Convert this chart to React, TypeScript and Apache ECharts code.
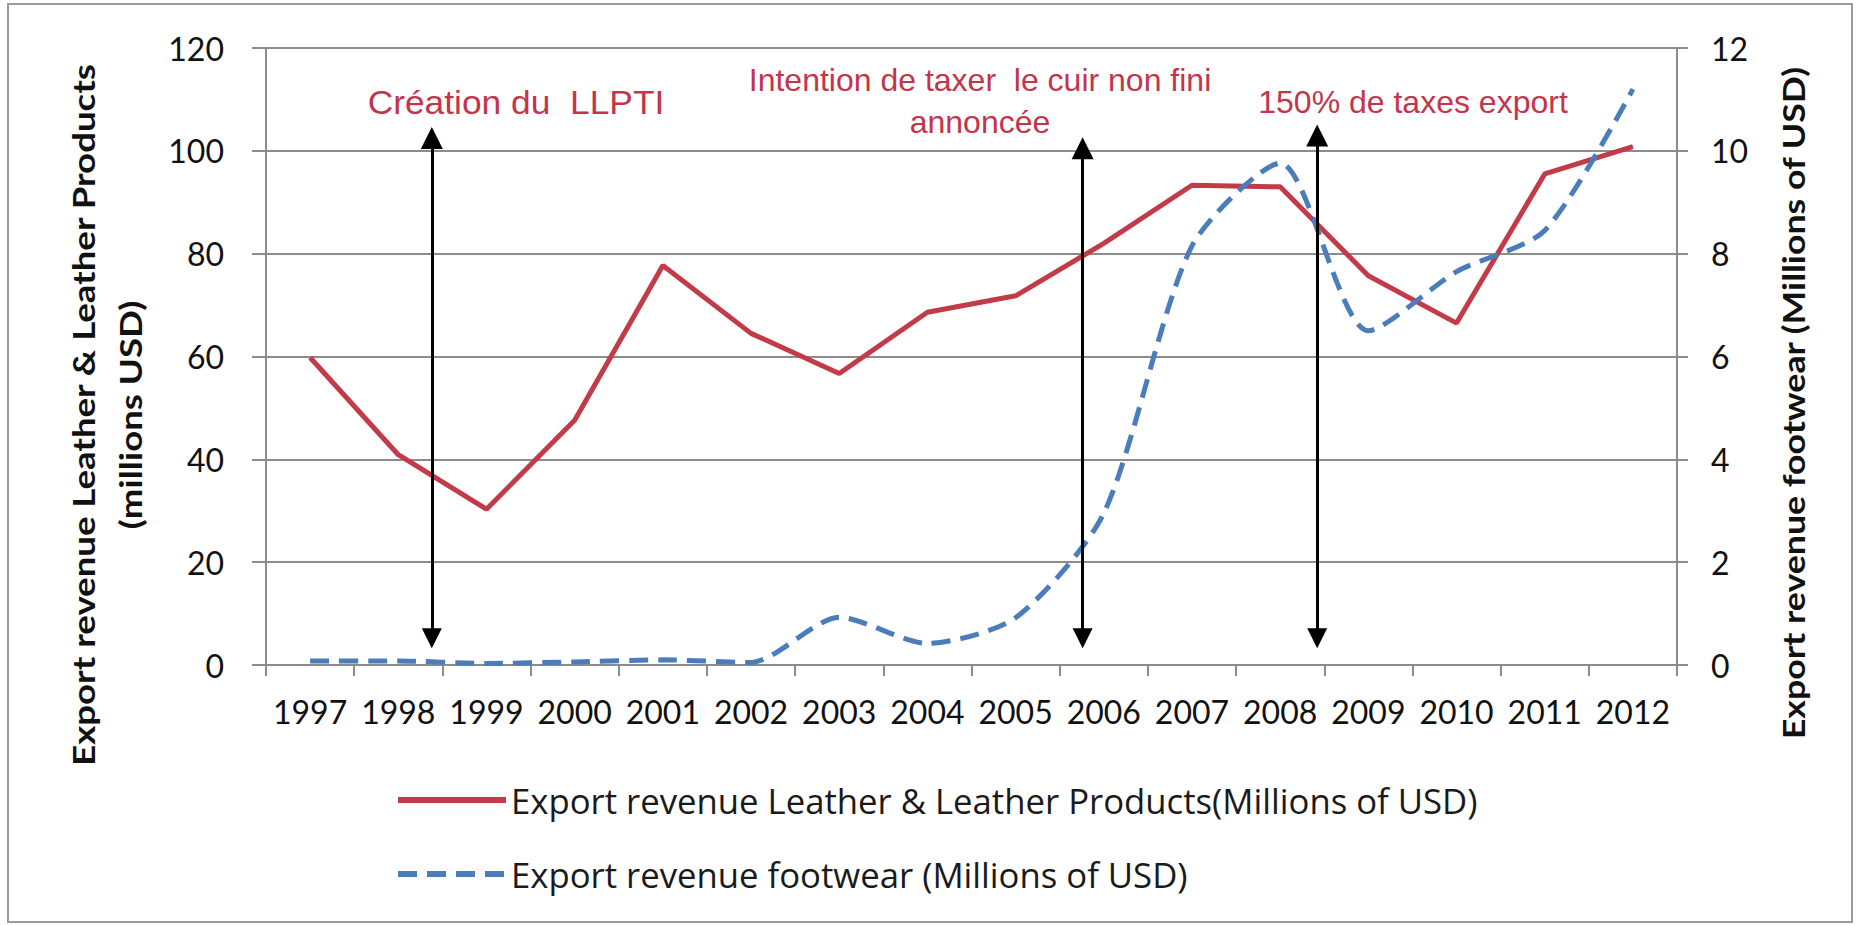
import React, { useEffect, useRef } from "react";
import * as echarts from "echarts";

const years = ["1997", "1998", "1999", "2000", "2001", "2002", "2003", "2004", "2005", "2006", "2007", "2008", "2009", "2010", "2011", "2012"];
const leather = [59.8, 40.9, 30.3, 47.6, 77.7, 64.5, 56.7, 68.6, 71.8, 82.0, 93.3, 93.0, 75.7, 66.5, 95.5, 100.8];
const footwear = [0.08, 0.08, 0.03, 0.06, 0.1, 0.05, 0.93, 0.42, 0.92, 2.95, 8.15, 9.76, 6.5, 7.65, 8.45, 11.2];
const leftTicks = { min: 0, max: 120, interval: 20 };
const rightTicks = { min: 0, max: 12, interval: 2 };

const leatherName = "Export revenue Leather & Leather Products(Millions of USD)";
const footwearName = "Export revenue footwear (Millions of USD)";
const leftTitle = "Export revenue Leather & Leather Products\n(millions USD)";
const rightTitle = "Export revenue footwear (Millions of USD)";

// event arrows (x in years, y on left axis)
const arrowYears = [1998.38, 2005.76, 2008.42];
const arrowTops = [102.5, 100.5, 103];
const arrowBottoms = [5.2, 5.2, 5.2];
const annotationTexts = ["Création du  LLPTI", "Intention de taxer  le cuir non fini\nannoncée", "150% de taxes export"];

const RED = "#C23B48";
const BLUE = "#4A7DBA";
const GRID = "#8c8c8c";
const TICK_FONT = "Lato, 'Open Sans', sans-serif";
const LEGEND_FONT = "'Open Sans', Lato, sans-serif";

export default function App() {
  const ref = useRef<HTMLDivElement>(null);
  useEffect(() => {
    if (!ref.current) return;
    const chart = echarts.init(ref.current, undefined, { renderer: "svg" });
    const annStyle = { fill: "#C4344A", fontFamily: "'Liberation Sans', Arial, sans-serif", fontSize: 32, align: "center", verticalAlign: "middle", lineHeight: 42 };
    chart.setOption({
      animation: false,
      backgroundColor: "#ffffff",
      grid: { left: 266, right: 184, top: 48, bottom: 260, outerBoundsMode: "none" },
      legend: {
        data: [leatherName, footwearName],
        orient: "vertical",
        left: 395,
        top: 781,
        padding: 0,
        itemWidth: 108,
        itemHeight: 4,
        itemGap: 36,
        lineStyle: { width: 6 },
        itemStyle: { opacity: 0 },
        textStyle: { fontFamily: LEGEND_FONT, fontSize: 34.7, color: "#1a1a1a", lineHeight: 38, padding: [0, 0, 0, 0] },
      },
      xAxis: [
        {
          type: "category",
          data: years,
          boundaryGap: true,
          axisLine: { show: true, lineStyle: { color: GRID, width: 2 } },
          axisTick: { show: true, length: 11, lineStyle: { color: GRID, width: 2 } },
          axisLabel: { fontFamily: TICK_FONT, fontSize: 32, color: "#111", margin: 30, interval: 0 },
          splitLine: { show: false },
        },
        {
          type: "value",
          min: 1996.5,
          max: 2012.5,
          show: false,
          splitLine: { show: false },
        },
      ],
      yAxis: [
        {
          type: "value",
          position: "left",
          min: leftTicks.min,
          max: leftTicks.max,
          interval: leftTicks.interval,
          axisLine: { show: true, lineStyle: { color: GRID, width: 2 } },
          axisTick: { show: true, length: 14, lineStyle: { color: GRID, width: 2 } },
          axisLabel: { fontFamily: TICK_FONT, fontSize: 32, color: "#111", margin: 42 },
          splitLine: { show: true, lineStyle: { color: GRID, width: 2 } },
        },
        {
          type: "value",
          position: "right",
          min: rightTicks.min,
          max: rightTicks.max,
          interval: rightTicks.interval,
          axisLine: { show: true, lineStyle: { color: GRID, width: 2 } },
          axisTick: { show: true, length: 11, lineStyle: { color: GRID, width: 2 } },
          axisLabel: { fontFamily: TICK_FONT, fontSize: 32, color: "#111", margin: 34 },
          splitLine: { show: false },
        },
      ],
      series: [
        {
          name: leatherName,
          type: "line",
          data: leather,
          xAxisIndex: 0,
          yAxisIndex: 0,
          symbol: "none",
          lineStyle: { color: RED, width: 5 },
          itemStyle: { color: RED },
          z: 3,
        },
        {
          name: footwearName,
          type: "line",
          data: footwear,
          xAxisIndex: 0,
          yAxisIndex: 1,
          symbol: "none",
          smooth: 0.25,
          lineStyle: { color: BLUE, width: 5, type: [19, 10] },
          itemStyle: { color: BLUE },
          z: 4,
        },
        {
          name: "arrows",
          type: "lines",
          coordinateSystem: "cartesian2d",
          xAxisIndex: 1,
          yAxisIndex: 0,
          symbol: ["triangle", "triangle"],
          symbolSize: [20, 22],
          lineStyle: { color: "#000", width: 3, opacity: 1, curveness: 0 },
          z: 5,
          data: arrowYears.map((x, i) => ({ coords: [[x, arrowBottoms[i]], [x, arrowTops[i]]] })),
        },
      ],
      graphic: [
        { type: "rect", shape: { x: 8, y: 4, width: 1844, height: 918 }, style: { fill: "none", stroke: "#9a9a9a", lineWidth: 2 }, silent: true, z: -10 },
        { type: "text", x: 516, y: 102, scaleX: 1.04, style: { text: annotationTexts[0], ...annStyle, fontSize: 34 } },
        { type: "text", x: 980, y: 101, style: { text: annotationTexts[1], ...annStyle } },
        { type: "text", x: 1413, y: 102, style: { text: annotationTexts[2], ...annStyle } },
        {
          type: "text", x: 107, y: 415, rotation: Math.PI / 2, scaleX: 1.22,
          style: { text: leftTitle, fontFamily: TICK_FONT, fontWeight: "bold", fontSize: 30, lineHeight: 47, fill: "#111", align: "center", verticalAlign: "middle" },
        },
        {
          type: "text", x: 1793, y: 403, rotation: Math.PI / 2, scaleX: 1.19,
          style: { text: rightTitle, fontFamily: TICK_FONT, fontWeight: "bold", fontSize: 30, fill: "#111", align: "center", verticalAlign: "middle" },
        },
      ],
    });
    return () => chart.dispose();
  }, []);
  return <div ref={ref} style={{ position: "absolute", left: 0, top: 0, width: 1861, height: 925 }} />;
}
